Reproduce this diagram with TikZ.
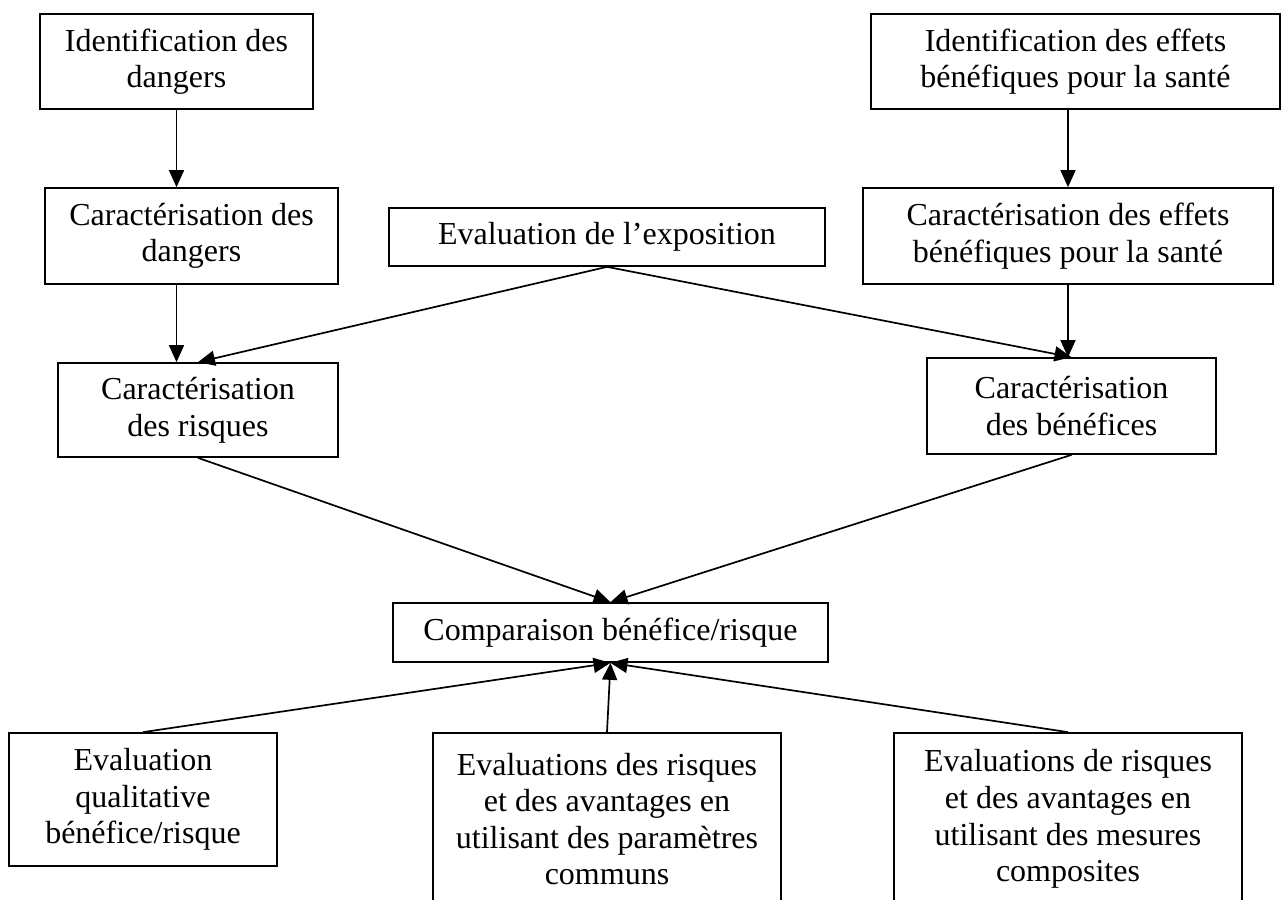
\documentclass[tikz,border=0pt]{standalone}
\usepackage{fontspec}
\setmainfont{Liberation Serif}
\usetikzlibrary{arrows.meta}

\begin{document}
\begin{tikzpicture}[x=1pt, y=-1pt, line width=1.7pt,
    font=\fontsize{32}{36.6}\selectfont,
    boite/.style={draw, align=center, inner sep=0pt},
    fleche/.style={-{Triangle[length=17pt, width=15pt]}}]
  \useasboundingbox (0, 0) rectangle (1284, 899);
  \clip (0, 0) rectangle (1284, 899);

  \node (id1)  at ( 176.5,  61.5) [boite, minimum width=273, minimum height=95] {Identification des\\dangers};
  \node (id2)  at (1075.5,  61.5) [boite, minimum width=409, minimum height=95] {Identification des effets\\bénéfiques pour la santé};
  \node (car1) at ( 191.5, 236.0) [boite, minimum width=293, minimum height=96] {Caractérisation des\\dangers};
  \node (expo) at ( 607.0, 237.0) [boite, minimum width=436, minimum height=58] {Evaluation de l’exposition};
  \node (car2) at (1068.0, 236.0) [boite, minimum width=410, minimum height=96] {Caractérisation des effets\\bénéfiques pour la santé};
  \node (risq) at ( 198.0, 410.0) [boite, minimum width=280, minimum height=94] {Caractérisation\\des risques};
  \node (bene) at (1071.5, 406.0) [boite, minimum width=289, minimum height=96] {Caractérisation\\des bénéfices};
  \node (comp) at ( 610.5, 632.5) [boite, minimum width=435, minimum height=59] {Comparaison bénéfice/risque};
  \node (ev1)  at ( 143.0, 799.5) [boite, minimum width=268, minimum height=133] {Evaluation\\qualitative\\bénéfice/risque};
  \node (ev2)  at ( 607.0, 819.0) [boite, minimum width=348, minimum height=172] {Evaluations des risques\\et des avantages en\\utilisant des paramètres\\communs};
  \node (ev3)  at (1068.0, 819.0) [boite, minimum width=348, minimum height=172] {Evaluations de risques\\et des avantages en\\utilisant des mesures\\composites};

  \draw [fleche] (id1.south) -- (id1.south |- car1.north);
  \draw [fleche] (id1.south |- car1.south) -- (id1.south |- risq.north);
  \draw [fleche] (car2.north |- id2.south) -- (car2.north);
  \draw [fleche] (car2.south) -- (car2.south |- bene.north);

  \draw [fleche] (expo.south) -- (risq.north);
  \draw [fleche] (expo.south) -- (bene.north);

  \draw [fleche] (risq.south) -- (comp.north);
  \draw [fleche] (bene.south) -- (comp.north);

  \draw [fleche] (ev1.north) -- (comp.south);
  \draw [fleche] (ev2.north) -- (comp.south);
  \draw [fleche] (ev3.north) -- (comp.south);
\end{tikzpicture}
\end{document}
